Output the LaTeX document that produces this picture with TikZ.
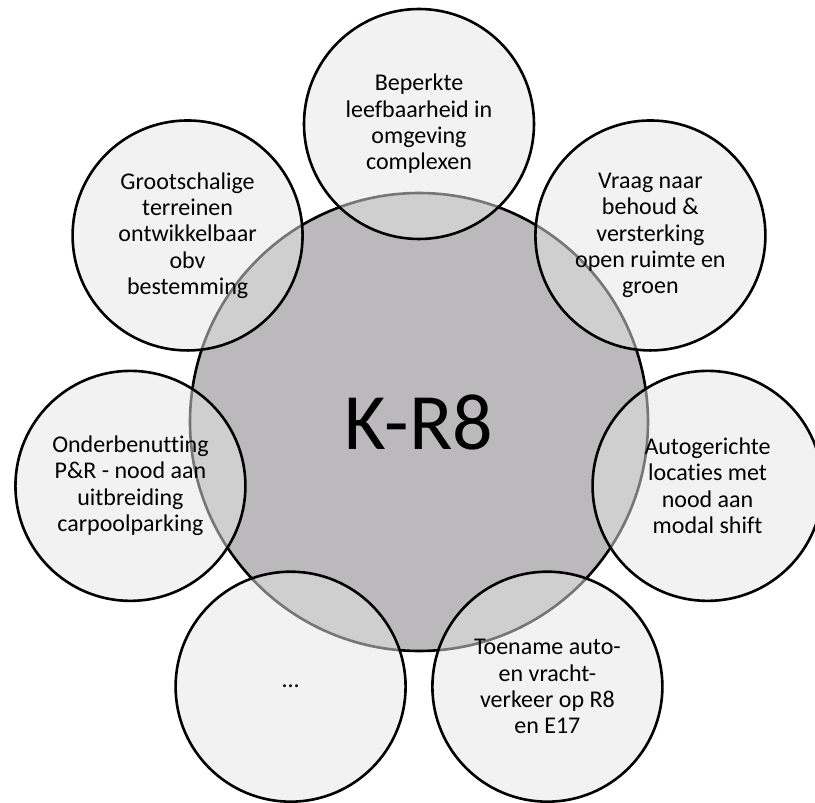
\documentclass[tikz,border=0pt]{standalone}
\usepackage{fontspec}
\setmainfont{Carlito}[Ligatures=NoCommon]
\usepackage{tikz}

\definecolor{hubgray}{RGB}{187,185,187}
\definecolor{satgray}{RGB}{242,242,242}
\definecolor{overlapgray}{RGB}{208,207,208}
\definecolor{rimgray}{RGB}{118,118,118}

\begin{document}
\begin{tikzpicture}[x=1pt, y=1pt,
    rim/.style={line width=2.6pt},
    hub/.style={shape=circle, minimum size=458pt, inner sep=0pt,
        font=\fontsize{80}{90}\selectfont},
    sat/.style={shape=circle, draw=black, rim, minimum size=230pt,
        inner sep=0pt, align=center, font=\fontsize{24}{26.3}\selectfont}]
    \useasboundingbox (-419,-383) rectangle (396,420);
    % centres of the seven outer circles
    \foreach \a [count=\i] in {90,38.57,-12.86,-64.29,-115.71,-167.14,141.43}
        \coordinate (c\i) at (\a:296);
    \coordinate (mid) at (0,-2);
    % big circle and the parts the outer circles lie over
    \fill[hubgray] (mid) circle (229);
    \draw[rim] (mid) circle (229);
    \foreach \i in {1,...,7} {
        \fill[satgray] (c\i) circle (115);
        \begin{scope}
            \clip (c\i) circle (115);
            \fill[overlapgray] (mid) circle (229);
            \draw[rim, rimgray] (mid) circle (229);
        \end{scope}
    }
    \node[hub] (KR8) at (mid) {K-R8};
    \node[sat] (leefbaarheid) at (c1) {Beperkte\\leefbaarheid in\\omgeving\\complexen};
    \node[sat] (openruimte) at (c2) {Vraag naar\\behoud \&\\versterking\\open ruimte en\\groen};
    \node[sat] (modalshift) at (c3) {Autogerichte\\locaties met\\nood aan\\modal shift};
    \node[sat] (vrachtverkeer) at (c4) {Toename auto-\\en vracht-\\verkeer op R8\\en E17};
    \node[sat] (overige) at (c5) {...};
    \node[sat] (carpool) at (c6) {Onderbenutting\\P\&R - nood aan\\uitbreiding\\carpoolparking};
    \node[sat] (terreinen) at (c7) {Grootschalige\\terreinen\\ontwikkelbaar\\obv\\bestemming};
\end{tikzpicture}
\end{document}
